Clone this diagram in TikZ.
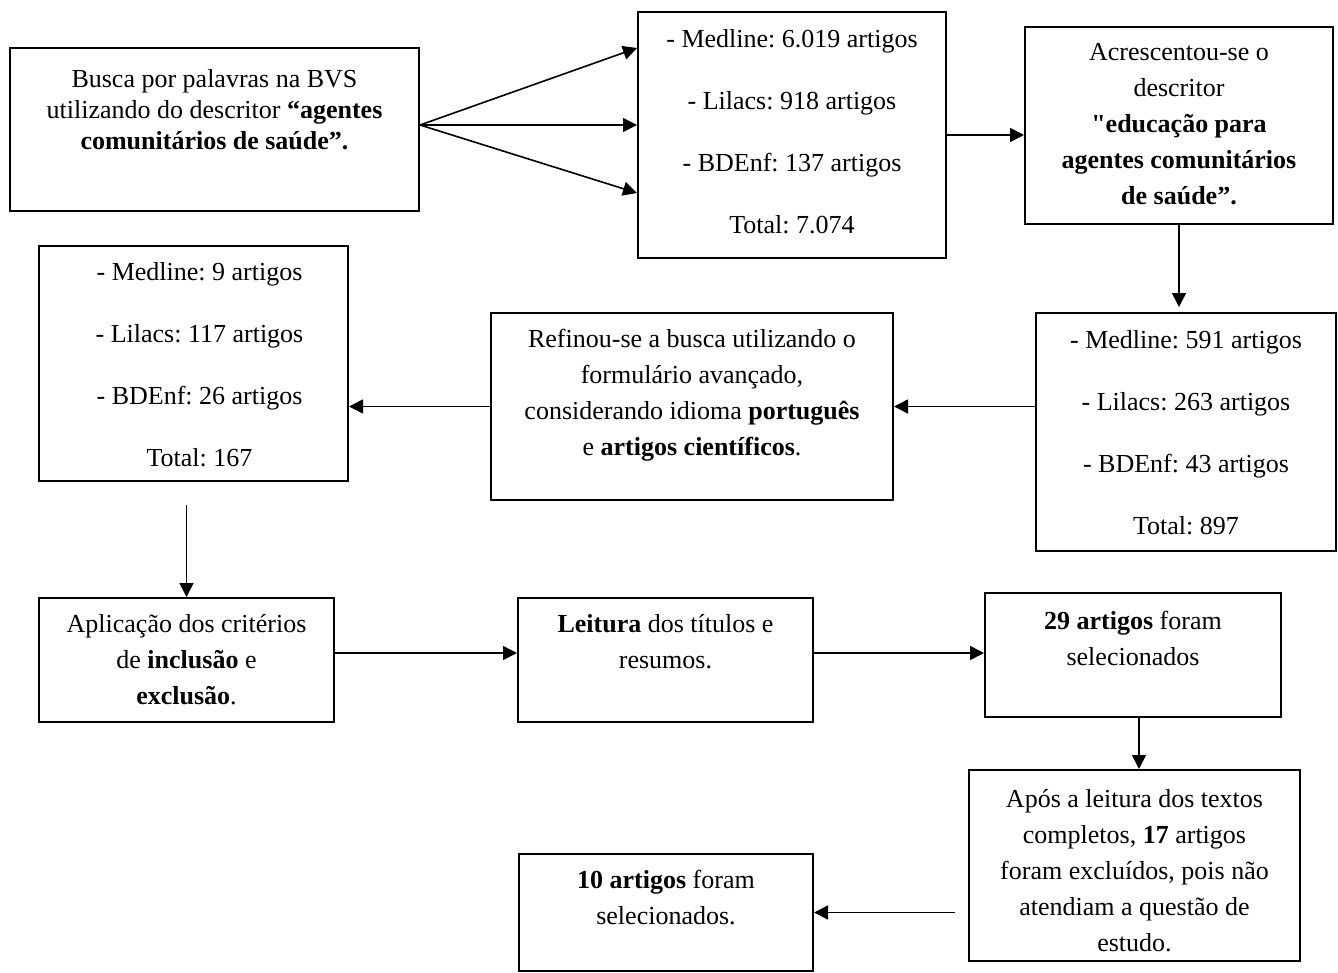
\documentclass[tikz,border=0pt]{standalone}
\usepackage{fontspec}
\setmainfont{Liberation Serif}
\newfontfamily\retafont{Liberation Serif}[Ligatures=TeXOff]
\frenchspacing
\usetikzlibrary{arrows.meta,positioning}

\begin{document}
\begin{tikzpicture}[x=0.5pt,y=-0.5pt,
    caixa/.style={draw, line width=1pt, inner sep=0pt},
    texto/.style={align=center, inner sep=0pt, font=\fontsize{13}{18}\selectfont},
    lista/.style={align=center, inner sep=0pt, font=\fontsize{13}{31}\selectfont},
    seta/.style={-{Triangle[length=7pt,width=7pt]}, line width=0.8pt}]
  \useasboundingbox (0,0) rectangle (1338,973);
  % Draw the boxes
  \node[caixa, minimum width=204.5pt, minimum height=81.5pt] (busca) at (214.5,129.5) {};
  \node[caixa, minimum width=154pt, minimum height=123pt] (bvs1) at (792,135) {};
  \node[caixa, minimum width=154pt, minimum height=98.5pt] (descritor) at (1179,125.5) {};
  \node[caixa, minimum width=150pt, minimum height=119pt] (bvs2) at (1186,432) {};
  \node[caixa, minimum width=201pt, minimum height=93.5pt] (refino) at (692,406.5) {};
  \node[caixa, minimum width=154.5pt, minimum height=117.5pt] (bvs3) at (193.5,363.5) {};
  \node[caixa, minimum width=147.5pt, minimum height=62pt] (criterios) at (186.5,660) {};
  \node[caixa, minimum width=147.5pt, minimum height=62pt] (leitura) at (665.5,660) {};
  \node[caixa, minimum width=148pt, minimum height=62pt] (sel29) at (1133,655) {};
  \node[caixa, minimum width=165.5pt, minimum height=95.5pt] (apos) at (1134.5,865.5) {};
  \node[caixa, minimum width=147pt, minimum height=58.5pt] (sel10) at (666,912.5) {};
  % Draw the texts
  \node[texto, font=\fontsize{13}{15.5}\selectfont, below=11pt of busca.north] (busca-t)
    {Busca por palavras na BVS\\ utilizando do descritor \textbf{“agentes}\\ \textbf{comunitários de saúde”.}};
  \node[lista, below=9pt of bvs1.north] (bvs1-t)
    {- Medline: 6.019 artigos\\ - Lilacs: 918 artigos\\ - BDEnf: 137 artigos\\ Total: 7.074};
  \node[texto, below=8.5pt of descritor.north] (descritor-t)
    {Acrescentou-se o\\ descritor\\ \textbf{{\retafont"}educação para}\\ \textbf{agentes comunitários}\\ \textbf{de saúde”.}};
  \node[lista, below=9pt of bvs2.north] (bvs2-t)
    {- Medline: 591 artigos\\ - Lilacs: 263 artigos\\ - BDEnf: 43 artigos\\ Total: 897};
  \node[texto, below=8.5pt of refino.north] (refino-t)
    {Refinou-se a busca utilizando o\\ formulário avançado,\\ considerando idioma \textbf{português}\\ e \textbf{artigos científicos}.};
  \node[lista, below=8.5pt of bvs3.north, xshift=3pt] (bvs3-t)
    {- Medline: 9 artigos\\ - Lilacs: 117 artigos\\ - BDEnf: 26 artigos\\ Total: 167};
  \node[texto, below=8.5pt of criterios.north] (criterios-t)
    {Aplicação dos critérios\\ de \textbf{inclusão} e\\ \textbf{exclusão}.};
  \node[texto, below=8.5pt of leitura.north] (leitura-t)
    {\textbf{Leitura} dos títulos e\\ resumos.};
  \node[texto, below=9.5pt of sel29.north] (sel29-t)
    {\textbf{29 artigos} foram\\ selecionados};
  \node[texto, below=10pt of apos.north] (apos-t)
    {Após a leitura dos textos\\ completos, \textbf{17} artigos\\ foram excluídos, pois não\\ atendiam a questão de\\ estudo.};
  \node[texto, below=8.5pt of sel10.north] (sel10-t)
    {\textbf{10 artigos} foram\\ selecionados.};
  % Draw the arrows
  \draw[seta] ([yshift=2.25pt]busca.east) -- ([yshift=43.5pt]bvs1.west);
  \draw[seta] ([yshift=2.25pt]busca.east) -- ([yshift=5pt]bvs1.west);
  \draw[seta] ([yshift=2.25pt]busca.east) -- ([yshift=-29pt]bvs1.west);
  \draw[seta] (bvs1.east) -- (bvs1.east -| descritor.west);
  \draw[seta] (descritor.south) -- ([yshift=2.5pt]descritor.south |- bvs2.north);
  \draw[seta] (bvs2.west |- refino.east) -- (refino.east);
  \draw[seta] (refino.west) -- (refino.west -| bvs3.east);
  \draw[seta] ([yshift=-11.5pt]bvs3.south -| criterios.north) -- (criterios.north);
  \draw[seta] ([yshift=3.5pt]criterios.east) -- ([yshift=3.5pt]leitura.west);
  \draw[seta] ([yshift=3.5pt]leitura.east) -- ([yshift=3.5pt]leitura.east -| sel29.west);
  \draw[seta] ([xshift=3pt]sel29.south) -- ([xshift=3pt]sel29.south |- apos.north);
  \draw[seta] ([xshift=-6.5pt]apos.west |- sel10.east) -- (sel10.east);
\end{tikzpicture}
\end{document}
